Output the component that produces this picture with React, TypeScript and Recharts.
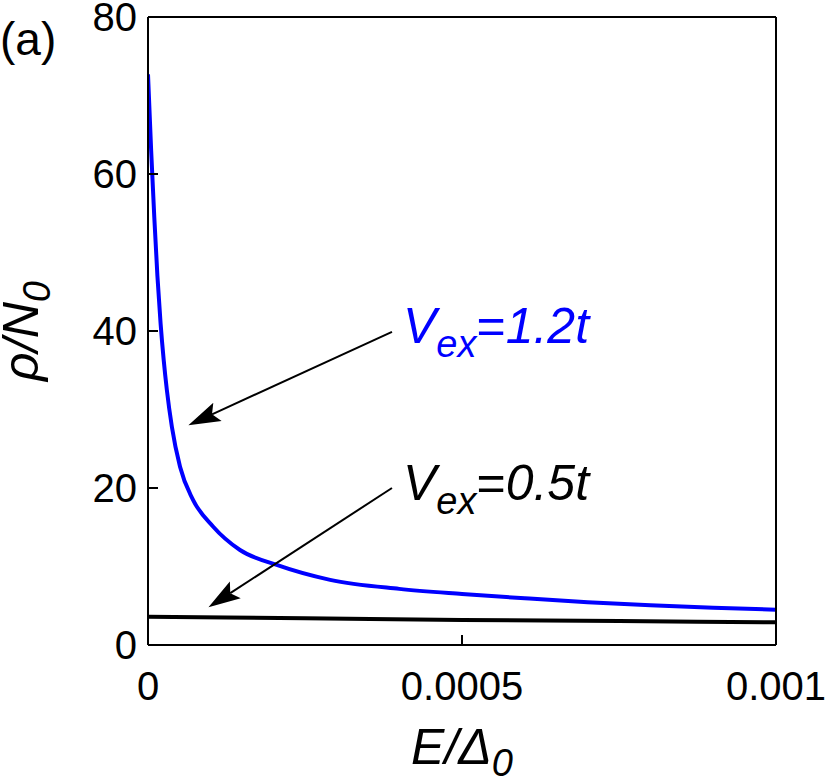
import { LineChart, Line, XAxis, YAxis, ReferenceLine, ReferenceDot } from 'recharts';

const FONT = '"Liberation Sans", Arial, Helvetica, sans-serif';

// E/Δ0 samples and ρ/N0 values
const blueE = [0, 0.000005, 0.00001, 0.000015, 0.00002, 0.000025, 0.00003, 0.000038, 0.000051, 0.0000717, 0.0001035, 0.0001465, 0.000205, 0.00029, 0.0004, 0.0005, 0.0006, 0.0007, 0.0008, 0.0009, 0.001];
const blueRho = [72.7, 63, 54.5, 47, 41, 36.3, 32.5, 27.8, 22.7, 18.5, 15.1, 12.1, 10.2, 8.3, 7.15, 6.5, 5.95, 5.45, 5.05, 4.75, 4.5];
const blackE = [0, 0.00025, 0.0005, 0.00075, 0.001];
const blackRho = [3.6, 3.4, 3.2, 3.05, 2.9];

const xTicks = [0, 0.0005, 0.001];
const yTicks = [0, 20, 40, 60, 80];

const blueData = blueE.map((E, i) => ({ E, rho: blueRho[i] }));
const blackData = blackE.map((E, i) => ({ E, rho: blackRho[i] }));

const arrowShape = (p: any) => {
  const { x1, y1, x2, y2 } = p;
  const a = Math.atan2(y2 - y1, x2 - x1);
  const c = Math.cos(a);
  const s = Math.sin(a);
  const len = 32;
  const half = 10;
  const notch = 26;
  const bx = x2 - len * c;
  const by = y2 - len * s;
  const nx = x2 - notch * c;
  const ny = y2 - notch * s;
  const pts = `${x2},${y2} ${bx + half * s},${by - half * c} ${nx},${ny} ${bx - half * s},${by + half * c}`;
  return (
    <g>
      <line x1={x1} y1={y1} x2={nx} y2={ny} stroke="#000" strokeWidth={2} />
      <polygon points={pts} fill="#000" />
    </g>
  );
};

const vexLabel = (value: string, color: string) => (p: any) => (
  <text x={p.cx} y={p.cy} fill={color} fontFamily={FONT} fontSize={50} fontStyle="italic">
    V
    <tspan dy={14} fontSize={38}>ex</tspan>
    <tspan dy={-14} fontStyle="normal">=</tspan>
    <tspan>{value}</tspan>
  </text>
);

const xLabel = (p: any) => {
  const { viewBox } = p;
  const cx = viewBox.x + viewBox.width / 2;
  return (
    <text x={cx} y={viewBox.y + 119} textAnchor="middle" fontFamily={FONT} fontSize={50} fontStyle="italic" fill="#000">
      E/Δ<tspan dy={12} fontSize={38}>0</tspan>
    </text>
  );
};

const yLabel = () => (
  <text x={38} y={331} transform="rotate(-90 38 331)" textAnchor="middle" fontFamily={FONT} fontSize={50} fontStyle="italic" fill="#000">
    ρ/N<tspan dy={12} fontSize={38}>0</tspan>
  </text>
);

const axisLine = { stroke: '#000', strokeWidth: 2 };
const tickLine = { stroke: '#000', strokeWidth: 2 };
const tickStyle = { fill: '#000', fontSize: 40, fontFamily: FONT };

export default function App() {
  return (
    <div style={{ position: 'absolute', left: 0, top: 0, width: 830, height: 783, background: '#fff' }}>
      <div style={{ position: 'absolute', left: 0, top: 16, fontFamily: FONT, fontSize: 46, lineHeight: 1, color: '#000' }}>(a)</div>
      <LineChart width={830} height={783} margin={{ top: 12, right: 44, bottom: 38, left: 48 }}>
        <XAxis
          xAxisId="b"
          type="number"
          dataKey="E"
          domain={[0, 0.001]}
          ticks={xTicks}
          interval={0}
          allowDataOverflow
          height={100}
          tickSize={-10}
          tickMargin={37}
          axisLine={axisLine}
          tickLine={tickLine}
          tick={tickStyle}
          label={{ content: xLabel }}
        />
        <XAxis
          xAxisId="t"
          orientation="top"
          type="number"
          dataKey="E"
          domain={[0, 0.001]}
          ticks={xTicks}
          interval={0}
          allowDataOverflow
          height={5}
          tickSize={-10}
          axisLine={axisLine}
          tickLine={tickLine}
          tick={false}
        />
        <YAxis
          yAxisId="l"
          type="number"
          domain={[0, 80]}
          ticks={yTicks}
          interval={0}
          allowDataOverflow
          width={100}
          tickSize={-10}
          tickMargin={21}
          axisLine={axisLine}
          tickLine={tickLine}
          tick={tickStyle}
          label={{ content: yLabel }}
        />
        <YAxis
          yAxisId="r"
          orientation="right"
          type="number"
          domain={[0, 80]}
          ticks={yTicks}
          interval={0}
          allowDataOverflow
          width={10}
          tickSize={-10}
          axisLine={axisLine}
          tickLine={tickLine}
          tick={false}
        />
        <Line
          xAxisId="b"
          yAxisId="l"
          data={blackData}
          dataKey="rho"
          type="monotone"
          stroke="#000"
          strokeWidth={4}
          dot={false}
          isAnimationActive={false}
        />
        <Line
          xAxisId="b"
          yAxisId="l"
          data={blueData}
          dataKey="rho"
          type="monotone"
          stroke="#0000ff"
          strokeWidth={4}
          dot={false}
          isAnimationActive={false}
        />
        <ReferenceLine
          xAxisId="b"
          yAxisId="l"
          segment={[{ x: 0.0003885, y: 39.9 }, { x: 0.0000643, y: 28.0 }]}
          shape={arrowShape}
        />
        <ReferenceLine
          xAxisId="b"
          yAxisId="l"
          segment={[{ x: 0.0003885, y: 20.0 }, { x: 0.0000963, y: 4.8 }]}
          shape={arrowShape}
        />
        <ReferenceDot xAxisId="b" yAxisId="l" x={0.000406} y={38.5} r={0} shape={vexLabel('1.2t', '#0000ff')} />
        <ReferenceDot xAxisId="b" yAxisId="l" x={0.000406} y={18.5} r={0} shape={vexLabel('0.5t', '#000')} />
      </LineChart>
    </div>
  );
}
